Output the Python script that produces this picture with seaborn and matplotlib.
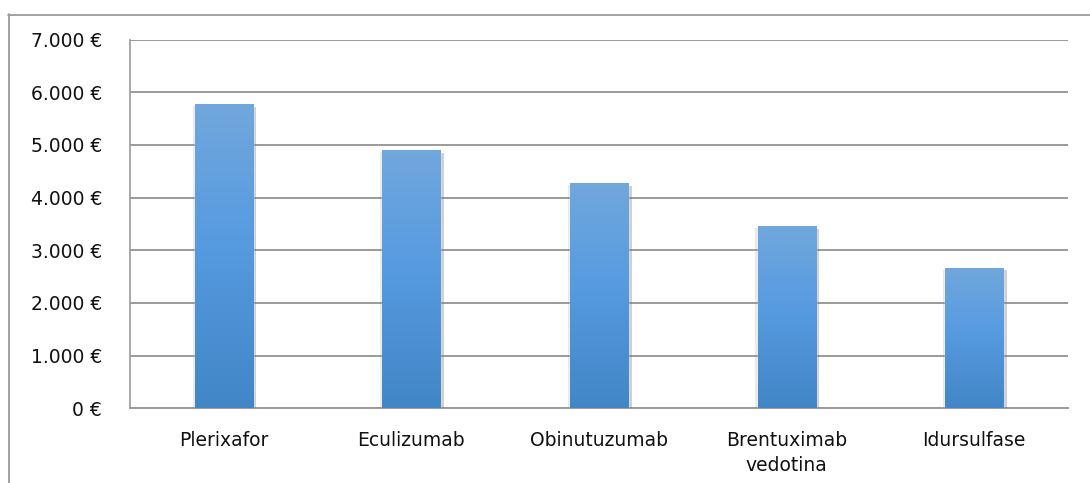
import numpy as np
import pandas as pd
import matplotlib
matplotlib.use("Agg")
import matplotlib.pyplot as plt
from matplotlib.colors import LinearSegmentedColormap
from matplotlib.lines import Line2D
from matplotlib.ticker import FuncFormatter, MultipleLocator
import matplotlib.patheffects as pe
import seaborn as sns

# Drug names and cost values (EUR)
drugs = ["Plerixafor", "Eculizumab", "Obinutuzumab", "Brentuximab\nvedotina", "Idursulfase"]
costs = [5780, 4900, 4280, 3460, 2670]

df = pd.DataFrame({"farmaco": drugs, "coste": costs})

sns.set_theme(style="white")
plt.rcParams["font.family"] = ["DejaVu Sans"]

W, H = 1090, 483
fig = plt.figure(figsize=(W / 100, H / 100), dpi=100)
left, right, top, bottom = 130, 1068, 39.5, 408.3
ax = fig.add_axes([left / W, 1 - bottom / H, (right - left) / W, (bottom - top) / H])

grid_color = "#9a9a9a"
sns.barplot(data=df, x="farmaco", y="coste", color="#5b9bd5", width=0.31,
            ax=ax, saturation=1, zorder=3)

ax.set_ylim(0, 7000)
ax.set_xlim(-0.5, len(drugs) - 0.5)
ax.yaxis.set_major_locator(MultipleLocator(1000))


def euro(v, _pos):
    return f"{int(v):,} €".replace(",", ".")


ax.yaxis.set_major_formatter(FuncFormatter(euro))
ax.set_xlabel("")
ax.set_ylabel("")

ax.grid(axis="y", color=grid_color, linewidth=1.4, zorder=0)
ax.set_axisbelow(True)
for side in ["top", "right"]:
    ax.spines[side].set_visible(False)
ax.spines["left"].set_color(grid_color)
ax.spines["left"].set_linewidth(1.2)
ax.spines["bottom"].set_color(grid_color)
ax.spines["bottom"].set_linewidth(1.4)

ax.tick_params(axis="y", length=0, pad=20, labelsize=13.5, labelcolor="#111111")
ax.tick_params(axis="x", length=0, pad=16, labelsize=13.5, labelcolor="#111111")
for lbl in ax.get_xticklabels():
    lbl.set_linespacing(1.4)
    lbl.set_verticalalignment("top")

# Vertical gradient fill with a soft drop shadow on each bar
cmap = LinearSegmentedColormap.from_list(
    "barfill", [(0.0, "#4186c6"), (0.55, "#579be0"), (1.0, "#71a7dc")])
grad = np.linspace(0, 1, 256).reshape(-1, 1)
for patch in ax.patches:
    x0, y0 = patch.get_x(), patch.get_y()
    w, h = patch.get_width(), patch.get_height()
    patch.set_path_effects([
        pe.SimplePatchShadow(offset=(-1.5, -1.5), shadow_rgbFace="#8a8a8a", alpha=0.18),
        pe.SimplePatchShadow(offset=(2.5, -2), shadow_rgbFace="#7a7a7a", alpha=0.35),
        pe.Normal()])
    im = ax.imshow(grad, extent=[x0, x0 + w, y0, y0 + h], origin="lower",
                   cmap=cmap, aspect="auto", zorder=4, interpolation="bilinear")
    im.set_clip_path(patch)
ax.set_xlim(-0.5, len(drugs) - 0.5)
ax.set_ylim(0, 7000)

# Outer chart frame
frame_color = "#9a9a9a"
fig.add_artist(Line2D([8.5 / W, 8.5 / W], [1 - 14 / H, 0], transform=fig.transFigure,
                      color=frame_color, linewidth=1.3))
fig.add_artist(Line2D([8 / W, 1], [1 - 14.5 / H, 1 - 14.5 / H], transform=fig.transFigure,
                      color=frame_color, linewidth=1.3))

fig.savefig("out.png", dpi=100, facecolor="white")
